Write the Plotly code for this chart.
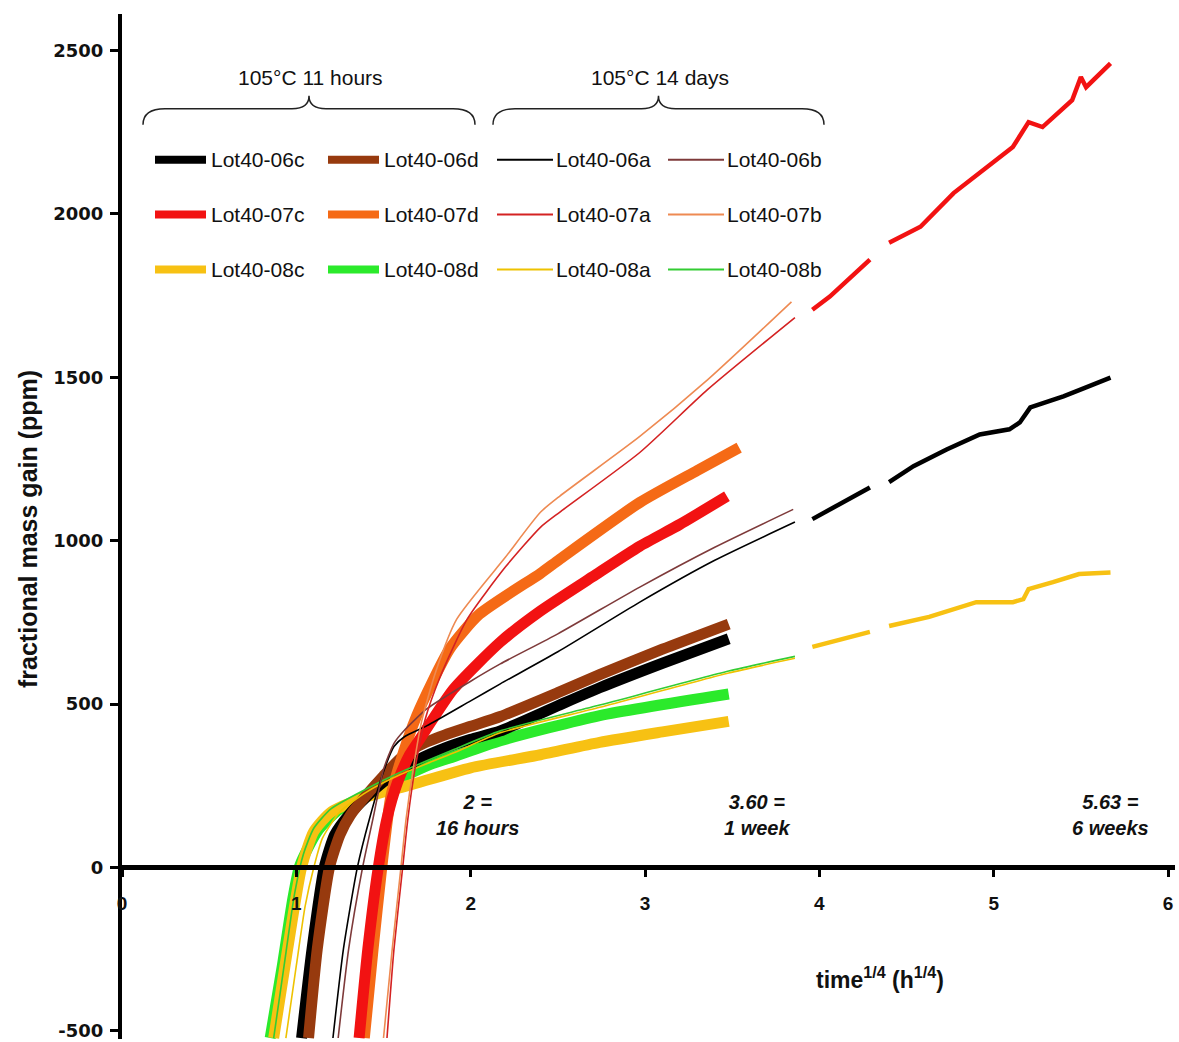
import plotly.graph_objects as go

# ---------------- data ----------------
names = ["Lot40-06c", "Lot40-06d", "Lot40-06a", "Lot40-06b",
         "Lot40-07c", "Lot40-07d", "Lot40-07a", "Lot40-07b",
         "Lot40-08c", "Lot40-08d", "Lot40-08a", "Lot40-08b"]

# 105 C 11 hours (thick)
x_06c = [1.03, 1.09, 1.16, 1.22, 1.30, 1.40, 1.50, 1.60, 1.70, 1.85, 2.00, 2.17, 2.50, 2.74, 3.10, 3.48]
y_06c = [-522, -250, 0, 100, 160, 215, 262, 298, 330, 365, 392, 418, 495, 550, 625, 700]
x_06d = [1.07, 1.12, 1.19, 1.25, 1.31, 1.40, 1.50, 1.60, 1.70, 1.85, 2.00, 2.17, 2.50, 2.74, 3.10, 3.48]
y_06d = [-522, -250, 0, 100, 160, 220, 280, 335, 372, 405, 432, 462, 535, 590, 668, 745]
x_07c = [1.36, 1.41, 1.47, 1.52, 1.58, 1.65, 1.71, 1.90, 2.17, 2.40, 2.70, 2.97, 3.20, 3.47]
y_07c = [-522, -250, 0, 150, 260, 345, 394, 545, 690, 785, 890, 983, 1050, 1136]
x_07d = [1.39, 1.44, 1.49, 1.54, 1.59, 1.69, 1.88, 2.05, 2.40, 2.51, 2.97, 3.30, 3.54]
y_07d = [-522, -250, 0, 211, 311, 464, 669, 775, 900, 943, 1117, 1215, 1285]
x_08c = [0.87, 0.95, 1.03, 1.10, 1.20, 1.40, 1.65, 2.00, 2.40, 2.74, 3.10, 3.48]
y_08c = [-522, -250, 0, 110, 170, 215, 252, 305, 345, 383, 415, 447]
x_08d = [0.85, 0.92, 0.98, 1.02, 1.12, 1.23, 1.40, 1.59, 1.78, 1.88, 2.17, 2.74, 3.48]
y_08d = [-522, -300, -95, 6, 110, 171, 220, 272, 318, 335, 388, 465, 531]

# 105 C 14 days (thin)
x_06a = [1.21, 1.27, 1.35, 1.42, 1.50, 1.56, 1.62, 1.75, 2.00, 2.17, 2.50, 2.97, 3.40, 3.86]
y_06a = [-522, -250, 0, 150, 293, 370, 400, 434, 510, 562, 660, 812, 940, 1057]
x_06b = [1.24, 1.30, 1.38, 1.44, 1.50, 1.56, 1.62, 1.75, 2.00, 2.17, 2.50, 2.97, 3.40, 3.85]
y_06b = [-522, -250, 0, 150, 300, 380, 420, 486, 570, 623, 715, 858, 980, 1096]
x_07a = [1.52, 1.56, 1.61, 1.64, 1.68, 1.74, 1.82, 1.98, 2.20, 2.40, 2.51, 2.97, 3.36, 3.86]
y_07a = [-522, -250, 0, 150, 300, 455, 577, 760, 920, 1041, 1087, 1270, 1463, 1683]
x_07b = [1.50, 1.55, 1.60, 1.63, 1.67, 1.72, 1.80, 1.92, 2.20, 2.40, 2.51, 2.97, 3.36, 3.84]
y_07b = [-522, -250, 0, 150, 300, 450, 600, 760, 950, 1087, 1136, 1319, 1493, 1731]
x_08a = [0.94, 1.00, 1.05, 1.10, 1.15, 1.25, 1.40, 1.60, 1.90, 2.17, 2.74, 3.48, 3.86]
y_08a = [-522, -300, -120, 0, 90, 170, 230, 285, 350, 412, 490, 595, 640]
x_08b = [0.87, 0.93, 0.99, 1.04, 1.10, 1.20, 1.40, 1.60, 1.90, 2.17, 2.74, 3.48, 3.86]
y_08b = [-522, -300, -80, 40, 120, 180, 240, 292, 360, 418, 497, 601, 646]

# longer runs of the 14-day samples (two recorded pieces each)
x_07a_long = [3.96, 4.06, 4.29, None, 4.40, 4.58, 4.77, 4.92, 5.11, 5.20, 5.28, 5.45, 5.50, 5.53, 5.67]
y_07a_long = [1707, 1747, 1860, None, 1912, 1961, 2064, 2125, 2205, 2281, 2266, 2348, 2419, 2388, 2461]
x_06a_long = [3.96, 4.29, None, 4.40, 4.54, 4.73, 4.92, 5.09, 5.15, 5.21, 5.40, 5.53, 5.67]
y_06a_long = [1066, 1163, None, 1179, 1228, 1279, 1325, 1341, 1362, 1408, 1442, 1469, 1499]
x_08a_long = [3.96, 4.29, None, 4.40, 4.63, 4.90, 5.11, 5.17, 5.20, 5.34, 5.49, 5.67]
y_08a_long = [675, 721, None, 739, 767, 812, 812, 821, 852, 873, 898, 903]

x_ticks = [0, 1, 2, 3, 4, 5, 6]
y_ticks = [-500, 0, 500, 1000, 1500, 2000, 2500]

group_titles = ["105°C 11 hours", "105°C 14 days"]
time_notes = [(2.0, "2 =<br>16 hours"), (3.60, "3.60 =<br>1 week"), (5.63, "5.63 =<br>6 weeks")]

# ---------------- styles ----------------
colors = {
    "Lot40-06c": "#000000", "Lot40-06d": "#973A0E", "Lot40-06a": "#000000", "Lot40-06b": "#7E3A3A",
    "Lot40-07c": "#F21212", "Lot40-07d": "#F56A16", "Lot40-07a": "#D42222", "Lot40-07b": "#EE8A52",
    "Lot40-08c": "#F7C113", "Lot40-08d": "#2BEA2B", "Lot40-08a": "#EEC200", "Lot40-08b": "#33CC33",
}
widths = {n: (11 if n[-1] in "cd" else 1.6) for n in names}

series = {
    "Lot40-06c": (x_06c, y_06c), "Lot40-06d": (x_06d, y_06d),
    "Lot40-07c": (x_07c, y_07c), "Lot40-07d": (x_07d, y_07d),
    "Lot40-08c": (x_08c, y_08c), "Lot40-08d": (x_08d, y_08d),
    "Lot40-06a": (x_06a, y_06a), "Lot40-06b": (x_06b, y_06b),
    "Lot40-07a": (x_07a, y_07a), "Lot40-07b": (x_07b, y_07b),
    "Lot40-08a": (x_08a, y_08a), "Lot40-08b": (x_08b, y_08b),
}
long_runs = [("Lot40-07a", x_07a_long, y_07a_long, "#F21212"),
             ("Lot40-06a", x_06a_long, y_06a_long, "#000000"),
             ("Lot40-08a", x_08a_long, y_08a_long, "#F7C113")]

XR = [0, 6.04]
YR = [-525, 2612]
W, H = 1179, 1042
L, R, T, B = 122, 4, 14, 1
pw, ph = W - L - R, H - T - B


def px2x(px):  # picture pixel -> x value
    return (px - L) / pw * (XR[1] - XR[0]) + XR[0]


def py2y(py):  # picture pixel -> y value
    return YR[1] - (py - T) / ph * (YR[1] - YR[0])


SANS = "Liberation Sans, Arial, sans-serif"
INK = "#111111"

fig = go.Figure()
draw_order = ["Lot40-08d", "Lot40-08c", "Lot40-06c", "Lot40-06d", "Lot40-07d", "Lot40-07c",
              "Lot40-08b", "Lot40-08a", "Lot40-06a", "Lot40-06b", "Lot40-07a", "Lot40-07b"]
for n in draw_order:
    xs, ys = series[n]
    fig.add_trace(go.Scatter(x=xs, y=ys, mode="lines", name=n, showlegend=False,
                             line=dict(color=colors[n], width=widths[n], shape="spline", smoothing=0.6)))
for n, xs, ys, c in long_runs:
    fig.add_trace(go.Scatter(x=xs, y=ys, mode="lines", name=n + " (long run)", showlegend=False,
                             connectgaps=False,
                             line=dict(color=c, width=4.5, shape="linear")))

shapes = []
annotations = []

# ---- legend grid (3 rows x 4 columns) ----
col_px = [152, 325, 497, 668]
row_py = [160, 215, 270]
grid = [["Lot40-06c", "Lot40-06d", "Lot40-06a", "Lot40-06b"],
        ["Lot40-07c", "Lot40-07d", "Lot40-07a", "Lot40-07b"],
        ["Lot40-08c", "Lot40-08d", "Lot40-08a", "Lot40-08b"]]
for r, row in enumerate(grid):
    for c, n in enumerate(row):
        x0 = col_px[c]
        thick = widths[n] > 3
        shapes.append(dict(type="line", xref="x", yref="y",
                           x0=px2x(x0 + (3 if thick else 0)), x1=px2x(x0 + (54 if thick else 56)),
                           y0=py2y(row_py[r]), y1=py2y(row_py[r]),
                           line=dict(color=colors[n], width=8 if thick else 2)))
        annotations.append(dict(x=px2x(x0 + 57), y=py2y(row_py[r]), xref="x", yref="y",
                                text=n, showarrow=False, xanchor="left", yanchor="middle",
                                font=dict(family=SANS, size=21, color=INK)))


# ---- braces + group titles ----
def brace(x0, x1, top, bot):
    xm = (x0 + x1) / 2
    pk = top - 13
    pts = [
        f"M{px2x(x0)},{py2y(bot)}",
        f"Q{px2x(x0)},{py2y(top)} {px2x(x0 + 22)},{py2y(top)}",
        f"L{px2x(xm - 17)},{py2y(top)}",
        f"Q{px2x(xm)},{py2y(top)} {px2x(xm)},{py2y(pk)}",
        f"Q{px2x(xm)},{py2y(top)} {px2x(xm + 17)},{py2y(top)}",
        f"L{px2x(x1 - 22)},{py2y(top)}",
        f"Q{px2x(x1)},{py2y(top)} {px2x(x1)},{py2y(bot)}",
    ]
    return " ".join(pts)


for (bx0, bx1), title in zip([(143, 475), (493, 824)], group_titles):
    shapes.append(dict(type="path", xref="x", yref="y", path=brace(bx0, bx1, 109, 125),
                       line=dict(color="#222222", width=1.5)))
    annotations.append(dict(x=px2x((bx0 + bx1) / 2 + 1), y=py2y(78), xref="x", yref="y",
                            text=title, showarrow=False, xanchor="center", yanchor="middle",
                            font=dict(family=SANS, size=21, color=INK)))

# ---- time notes ----
for xv, txt in time_notes:
    annotations.append(dict(x=xv + 0.04, y=py2y(817), xref="x", yref="y", text="<i>" + txt + "</i>",
                            showarrow=False, xanchor="center", yanchor="middle",
                            font=dict(family=SANS, size=20, color=INK, weight="bold")))

# ---- axis titles ----
annotations.append(dict(x=px2x(880), y=py2y(980), xref="x", yref="y",
                        text="time<sup>1/4</sup> (h<sup>1/4</sup>)", showarrow=False,
                        xanchor="center", yanchor="middle",
                        font=dict(family=SANS, size=23, color=INK, weight="bold")))
annotations.append(dict(x=(28 - L) / pw, y=(H - B - 530) / ph, xref="paper", yref="paper",
                        text="fractional mass gain (ppm)", showarrow=False, textangle=-90,
                        xanchor="center", yanchor="middle",
                        font=dict(family=SANS, size=25, color=INK, weight="bold")))

fig.update_layout(
    width=W, height=H,
    margin=dict(l=L, r=R, t=T, b=B, pad=0),
    paper_bgcolor="white", plot_bgcolor="white",
    showlegend=False,
    shapes=shapes, annotations=annotations,
    xaxis=dict(range=XR, anchor="free", position=(0 - YR[0]) / (YR[1] - YR[0]),
               showgrid=False, zeroline=False, showline=True, linecolor="black", linewidth=5,
               ticks="outside", ticklen=7, tickwidth=3, tickcolor="black",
               tickvals=x_ticks, ticktext=[str(v) for v in x_ticks],
               ticklabelstandoff=10, ticklabeloverflow="allow",
               tickfont=dict(family=SANS, size=19, color=INK, weight="bold")),
    yaxis=dict(range=YR, showgrid=False, zeroline=False, showline=True, linecolor="black", linewidth=4,
               ticks="outside", ticklen=8, tickwidth=3, tickcolor="black",
               tickvals=y_ticks, ticktext=[str(v) for v in y_ticks],
               ticklabelstandoff=3, ticklabeloverflow="allow",
               tickfont=dict(family="DejaVu Sans", size=18, color=INK, weight="bold")),
)

# let the figure fill the window exactly (no default page margin, no scrollbars)
fig.write_html("out.html",
               config={"displayModeBar": False},
               post_script="document.body.style.margin='0';document.body.style.overflow='hidden';")
